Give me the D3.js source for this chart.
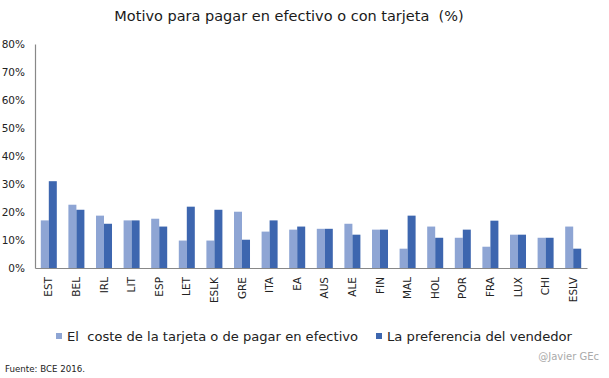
<!DOCTYPE html>
<html><head><meta charset="utf-8">
<script src="https://cdn.jsdelivr.net/npm/d3@7"></script>
<style>body{margin:0;background:#fff}svg{display:block}text{font-family:"DejaVu Sans",sans-serif;white-space:pre}</style>
</head><body><svg id="c" width="609" height="378"></svg>
<script>
const categories = ["EST","BEL","IRL","LIT","ESP","LET","ESLK","GRE","ITA","EA","AUS","ALE","FIN","MAL","HOL","POR","FRA","LUX","CHI","ESLV"];
const costeTarjeta = [17,22.6,18.7,17,17.6,9.8,9.8,20.1,13,13.7,14,15.8,13.7,6.9,14.8,10.8,7.6,11.9,10.8,14.8];
const preferenciaVendedor = [31,20.8,15.8,17,14.8,21.9,20.8,10.1,17,14.8,14,11.9,13.7,18.7,10.8,13.7,16.9,11.9,10.8,6.9];
const yTicks = [0,10,20,30,40,50,60,70,80];
const seriesNames = ["El  coste de la tarjeta o de pagar en efectivo","La preferencia del vendedor"];
const colors = ["#8EA5D4","#3D66AF"];

const svg = d3.select("#c");
const mLeft = 35, mRight = 587, mTop = 44, mBottom = 268;
const x = d3.scaleBand().domain(categories).range([mLeft, mRight]).paddingInner(0.42).paddingOuter(0.21);
const y = d3.scaleLinear().domain([0, 80]).range([mBottom, mTop]);
const xs = d3.scaleBand().domain([0,1]).range([0, x.bandwidth()]);

svg.append("text").attr("x", 289).attr("y", 21).attr("text-anchor","middle")
  .attr("font-size", 14.5).attr("fill","#1a1a1a").text("Motivo para pagar en efectivo o con tarjeta  (%)");

const ya = svg.append("g").attr("transform",`translate(${mLeft},0)`)
  .call(d3.axisLeft(y).tickValues(yTicks).tickFormat(d=>d+"%").tickSize(0).tickPadding(10));
ya.select(".domain").attr("stroke","#888").attr("stroke-width",1.2);
ya.selectAll("text").attr("font-size",10.5).attr("fill","#222").style("font-family","DejaVu Sans");

const series = [costeTarjeta, preferenciaVendedor];
series.forEach((vals, s) => {
  svg.append("g").selectAll("rect").data(categories).join("rect")
    .attr("x", (d) => x(d) + xs(s))
    .attr("width", xs.bandwidth())
    .attr("y", (d,i) => y(vals[i]))
    .attr("height", (d,i) => y(0) - y(vals[i]))
    .attr("fill", colors[s]);
});

const xa = svg.append("g").attr("transform",`translate(0,${mBottom})`)
  .call(d3.axisBottom(x).tickSize(0).tickPadding(0));
xa.select(".domain").attr("stroke","#888").attr("stroke-width",1.2);
xa.selectAll("text").attr("font-size",10.5).attr("fill","#222").style("font-family","DejaVu Sans")
  .attr("transform","rotate(-90)").attr("text-anchor","end").attr("x",-9).attr("y",0).attr("dy","0.35em");

const leg = [[56,67,291],[376,387,185]];
seriesNames.forEach((n,i)=>{
  svg.append("rect").attr("x",leg[i][0]).attr("y",333).attr("width",6).attr("height",6).attr("fill",colors[i]);
  svg.append("text").attr("x",leg[i][1]).attr("y",341).attr("font-size",13).attr("fill","#222")
    .attr("textLength",leg[i][2]).attr("lengthAdjust","spacingAndGlyphs").text(n);
});
svg.append("text").attr("x",599).attr("y",360).attr("text-anchor","end").attr("font-size",10).attr("fill","#aaa").text("@Javier GEc");
svg.append("text").attr("x",5).attr("y",372).attr("font-size",8).attr("fill","#222")
  .attr("textLength",80).attr("lengthAdjust","spacingAndGlyphs").text("Fuente: BCE 2016.");
</script></body></html>
